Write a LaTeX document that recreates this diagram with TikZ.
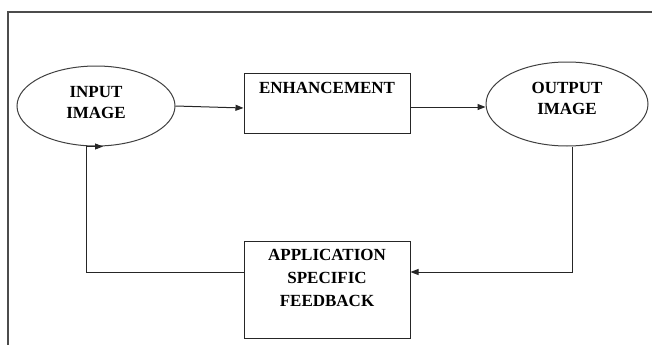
\documentclass[tikz,border=0pt]{standalone}
\usepackage{fontspec}
\setmainfont{Liberation Serif}
\usetikzlibrary{arrows.meta,shapes.geometric}
\begin{document}
\begin{tikzpicture}[x=1pt,y=-1pt,
  ell/.style={draw=black!75, line width=1pt, ellipse, inner sep=0pt},
  box/.style={draw=black!85, line width=1pt, rectangle, inner sep=0pt},
  lbl/.style={font=\fontsize{17}{21}\selectfont\bfseries, align=center, inner sep=0pt},
  lblb/.style={font=\fontsize{17}{23}\selectfont\bfseries, align=center, inner sep=0pt},
  arr/.style={draw=black!85, line width=1pt, -{Triangle[length=8pt,width=6pt]}},
  frame/.style={draw=black!70, line width=1.1pt}]
\useasboundingbox (0,0) rectangle (652,345);
\fill[white] (0,0) rectangle (652,345);
% frame
\coordinate (ftr) at (652,12);
\coordinate (ftl) at (8,12);
\coordinate (fbl) at (8,345);
\draw[frame] (ftr) -- (ftl) -- (fbl);
% shapes
\node[ell, minimum width=158pt, minimum height=80pt] (in) at (96,106) {};
\node[box, minimum width=166pt, minimum height=60pt] (enh) at (327,103) {};
\node[ell, minimum width=162pt, minimum height=84pt] (out) at (567,104) {};
\node[box, minimum width=166pt, minimum height=97pt] (fb) at (327,289.5) {};
% texts
\node[lbl] (tin) at (96,102.5) {INPUT\\IMAGE};
\node[lbl] (tenh) at (327,88) {ENHANCEMENT};
\node[lbl] (tout) at (567,98) {OUTPUT\\IMAGE};
\node[lblb] (tfb) at (327,278) {APPLICATION\\SPECIFIC\\FEEDBACK};
% connectors
\draw[arr] (in.east) -- ([yshift=-5pt]enh.west);
\draw[arr] ([yshift=-4pt]enh.east) -- ([yshift=-3pt]out.west);
\draw[arr] ([xshift=5pt]out.south) |- ([yshift=17.5pt]fb.east);
\draw[arr] ([yshift=17.5pt]fb.west) -| ([xshift=-10pt]in.south) -- ([xshift=7pt]in.south);
\end{tikzpicture}
\end{document}
